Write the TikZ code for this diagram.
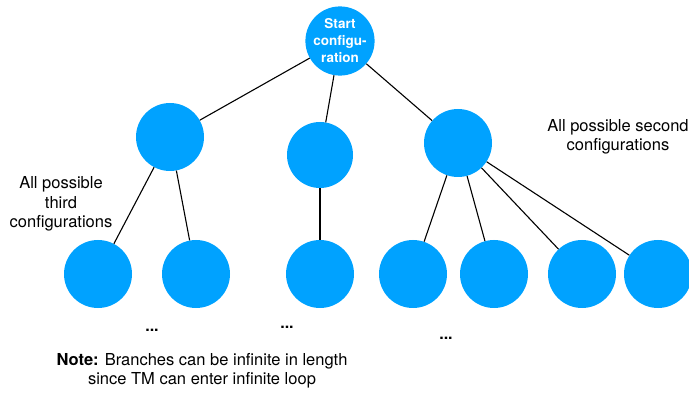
\documentclass[tikz,border=0pt]{standalone}
\usepackage{fontspec}
\setmainfont{TeX Gyre Heros}
\definecolor{confblue}{HTML}{00A2FF}
\begin{document}
\begin{tikzpicture}[x=1pt,y=-1pt,
  conf/.style={circle,fill=confblue,draw=none,minimum size=#1,inner sep=0pt},
  conf/.default=68pt,
  link/.style={draw=black,line width=1.1pt},
  lbl/.style={align=center,font=\fontsize{16.5}{19.5}\selectfont},
  dots/.style={font=\fontsize{16}{19}\selectfont\bfseries}]
\useasboundingbox (0,0) rectangle (689,393);
% root
\node[conf, text=white, align=center, font=\fontsize{13.5}{17}\selectfont\bfseries] (root) at (340,41) {Start\\configu-\\ration};
% second configurations
\node[conf] (s1) at (170,137) {};
\node[conf=66pt] (s2) at (320,155) {};
\node[conf] (s3) at (458,143) {};
% third configurations
\node[conf] (t1) at (98,274) {};
\node[conf] (t2) at (196,274) {};
\node[conf] (t3) at (320,274) {};
\node[conf] (t4) at (413,274) {};
\node[conf] (t5) at (494,274) {};
\node[conf] (t6) at (582,274) {};
\node[conf] (t7) at (658,274) {};
% branches
\draw[link] (root) -- (s1);
\draw[link] (root) -- (s2);
\draw[link] (root) -- (s3);
\draw[link] (s1) -- (t1);
\draw[link] (s1) -- (t2);
\draw[link] (s2) -- (t3);
\draw[link] (s3) -- (t4);
\draw[link] (s3) -- (t5);
\draw[link] (s3) -- (t6);
\draw[link] (s3) -- (t7);
% labels
\node[lbl] (second) at (618,137) {All possible second\\configurations};
\node[lbl] (third) at (61,204) {All possible\\third\\configurations};
\node[dots] (d1) at (152,330) {...};
\node[dots] (d2) at (287,327) {...};
\node[dots] (d3) at (446,338) {...};
\node[lbl] (note) at (202,371) {\textbf{Note:} Branches can be infinite in length\\since TM can enter infinite loop};
\end{tikzpicture}
\end{document}
